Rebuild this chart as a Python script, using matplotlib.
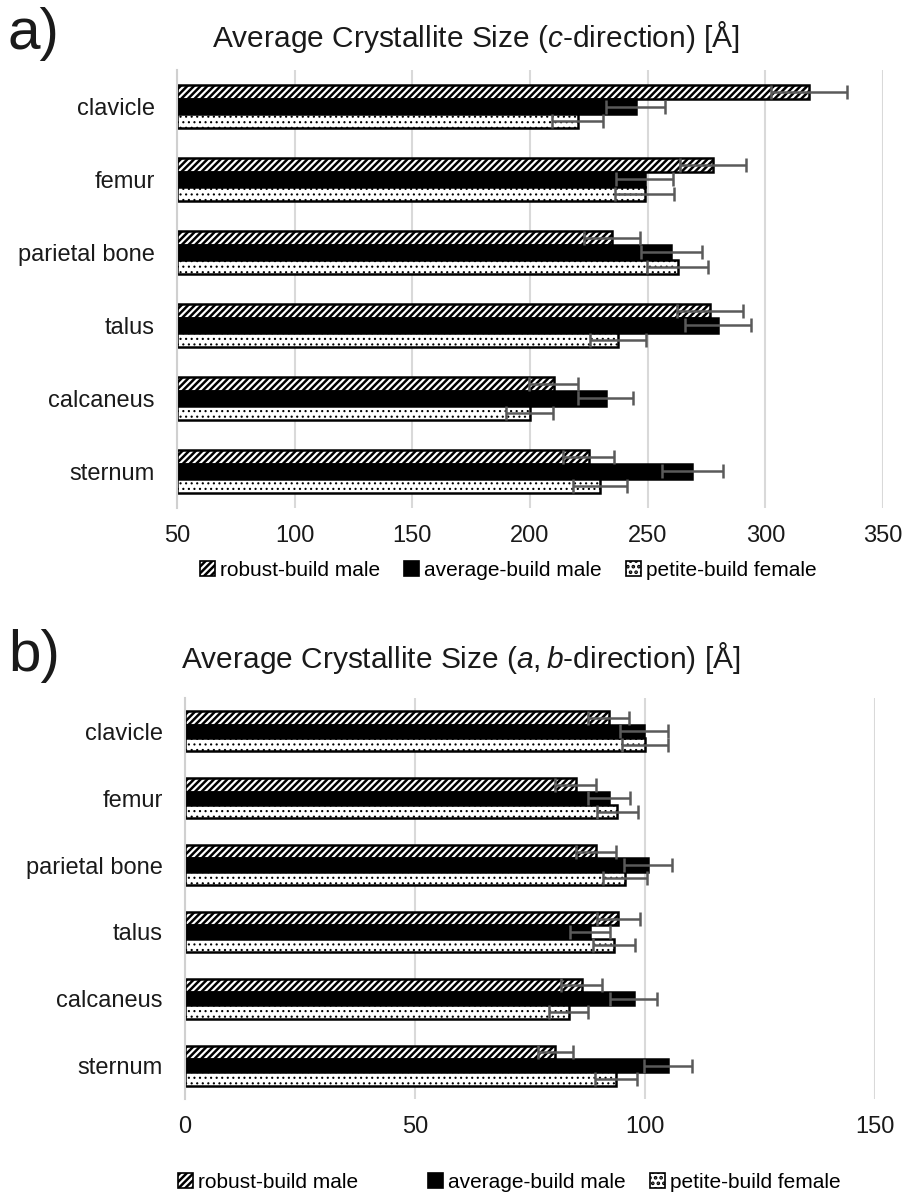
import matplotlib
matplotlib.use("Agg")
import matplotlib.pyplot as plt
import numpy as np
from matplotlib.patches import Patch

plt.rcParams["font.family"] = ["Liberation Sans", "DejaVu Sans"]
plt.rcParams["mathtext.fontset"] = "custom"
plt.rcParams["mathtext.rm"] = "Liberation Sans"
plt.rcParams["mathtext.it"] = "Liberation Sans:italic"
plt.rcParams["hatch.linewidth"] = 1.8

bones = ["clavicle", "femur", "parietal bone", "talus", "calcaneus", "sternum"]
groups = ["robust-build male", "average-build male", "petite-build female"]

# c-direction crystallite size [Å]
c_robust = [318.6, 277.7, 234.8, 276.3, 210.0, 224.9]
c_average = [245.0, 248.7, 260.0, 279.7, 232.1, 268.9]
c_petite = [220.2, 248.7, 262.7, 237.5, 199.8, 229.6]
c_robust_err = [16.0, 14.0, 12.0, 14.0, 10.5, 11.0]
c_average_err = [12.5, 12.0, 13.0, 14.0, 11.5, 13.0]
c_petite_err = [11.0, 12.5, 13.0, 12.0, 10.0, 11.5]

# a,b-direction crystallite size [Å]
ab_robust = [92.1, 84.9, 89.3, 94.2, 86.2, 80.5]
ab_average = [99.8, 92.1, 100.6, 88.0, 97.5, 105.0]
ab_petite = [100.1, 94.0, 95.7, 93.3, 83.4, 93.7]
ab_robust_err = [4.4, 4.4, 4.3, 4.7, 4.4, 3.8]
ab_average_err = [5.2, 4.6, 5.2, 4.3, 5.1, 5.2]
ab_petite_err = [5.0, 4.5, 4.8, 4.6, 4.2, 4.6]

a_ticks = [50, 100, 150, 200, 250, 300, 350]
b_ticks = [0, 50, 100, 150]

W, H = 907, 1196
fig = plt.figure(figsize=(W / 100, H / 100), dpi=100)

styles = [
    dict(facecolor="white", edgecolor="black", hatch="/////"),
    dict(facecolor="black", edgecolor="black", hatch=None),
    dict(facecolor="white", edgecolor="black", hatch="..."),
]
hatch_widths = [1.8, 1.0, 0.8]


def set_hatch_width(patch, lw):
    try:
        patch.set_hatch_linewidth(lw)
    except AttributeError:
        pass


def px_axes(left, top, right, bottom):
    return fig.add_axes([left / W, 1 - bottom / H, (right - left) / W, (bottom - top) / H])


def draw_panel(ax, series, errs, xlim, ticks, base):
    n = len(bones)
    y = np.arange(n)
    h = 0.2
    for k, (vals, err) in enumerate(zip(series, errs)):
        yy = y - h + k * h
        vals = np.asarray(vals)
        bars = ax.barh(yy, vals - base, left=base, height=h, linewidth=1.8,
                       zorder=2, **styles[k])
        for b in bars:
            set_hatch_width(b, hatch_widths[k])
        ax.errorbar(vals, yy, xerr=err, fmt="none", ecolor="#5a5a5a",
                    elinewidth=1.8, capsize=5, capthick=1.8, zorder=3)
    ax.set_xlim(*xlim)
    ax.set_ylim(n - 0.5, -0.5)
    ax.set_xticks(ticks)
    ax.set_yticks(y)
    ax.set_yticklabels(bones)
    ax.tick_params(axis="both", length=0, labelsize=17, colors="#1a1a1a")
    ax.tick_params(axis="x", pad=12)
    ax.tick_params(axis="y", pad=16)
    ax.grid(axis="x", color="#d9d9d9", linewidth=1.5, zorder=0)
    ax.set_axisbelow(True)
    for s in ["top", "right", "bottom"]:
        ax.spines[s].set_visible(False)
    ax.spines["left"].set_color("#d0d0d0")
    ax.spines["left"].set_linewidth(1.5)


def legend_row(xs_px, y_px):
    # one legend entry per position so each entry sits at its own x
    for k, x in enumerate(xs_px):
        handle = Patch(linewidth=1.2, **styles[k])
        set_hatch_width(handle, hatch_widths[k])
        fig.legend([handle], [groups[k]], loc="center left",
                   bbox_to_anchor=(x / W, 1 - y_px / H), frameon=False,
                   fontsize=15, handlelength=0.7, handleheight=0.7,
                   handletextpad=0.25, borderaxespad=0, borderpad=0)


ax1 = px_axes(177, 70, 883, 508)
draw_panel(ax1, [c_robust, c_average, c_petite],
           [c_robust_err, c_average_err, c_petite_err], (50, 350), a_ticks, 50)
legend_row([200, 404, 626], 570)

ax2 = px_axes(185, 698, 875, 1099)
draw_panel(ax2, [ab_robust, ab_average, ab_petite],
           [ab_robust_err, ab_average_err, ab_petite_err], (0, 150), b_ticks, 0)
legend_row([178, 428, 650], 1182)

fig.text(476 / W, 1 - 37 / H, r"Average Crystallite Size ($\mathit{c}$-direction) [Å]",
         ha="center", va="center", fontsize=21.5, color="#1a1a1a")
fig.text(461 / W, 1 - 658 / H, r"Average Crystallite Size ($\mathit{a,b}$-direction) [Å]",
         ha="center", va="center", fontsize=21.5, color="#1a1a1a")
fig.text(8 / W, 1 - 34 / H, "a)", ha="left", va="center", fontsize=42, color="#1a1a1a")
fig.text(8 / W, 1 - 656 / H, "b)", ha="left", va="center", fontsize=42, color="#1a1a1a")

fig.savefig("out.png", dpi=100, facecolor="white")
